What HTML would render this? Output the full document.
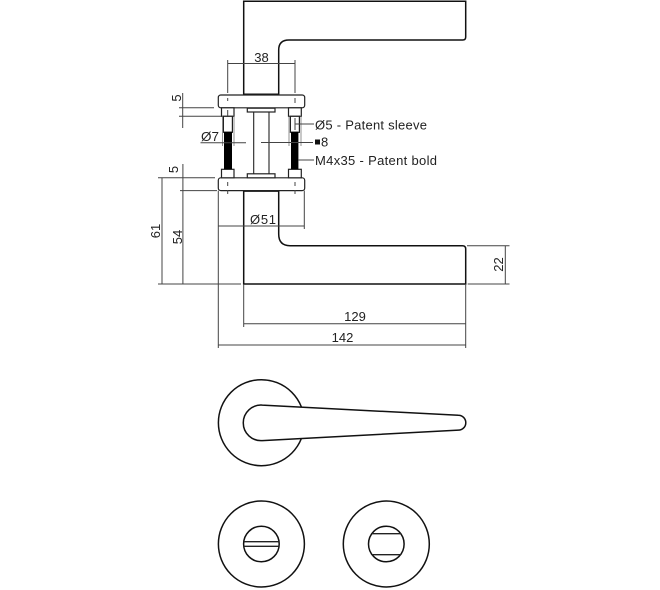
<!DOCTYPE html>
<html>
<head>
<meta charset="utf-8">
<style>
html,body{margin:0;padding:0;background:#fff}
svg{display:block}
text{font-family:"Liberation Sans",sans-serif;font-size:13px;fill:#222}
.o{fill:none;stroke:#111;stroke-width:1.5}
.d{fill:none;stroke:#444;stroke-width:1}
.p{fill:#fff;stroke:#222;stroke-width:1.2}
</style>
</head>
<body>
<svg width="660" height="590" viewBox="0 0 660 590" xmlns="http://www.w3.org/2000/svg">
<!-- top handle -->
<path class="o" d="M243.7 95V1.2H465.7V37Q465.7 40 462.7 40H289Q278.7 40 278.7 50V95"/>
<path d="M243.7 94.3H278.7" stroke="#111" stroke-width="1.6" fill="none"/>
<!-- lower handle -->
<path class="o" d="M243.7 190.7V284H465.7V249Q465.7 245.7 462.4 245.7H290Q278.7 245.7 278.7 234V190.7"/>
<path d="M243.7 191H278.7" stroke="#111" stroke-width="1.8" fill="none"/>
<!-- plates -->
<rect class="p" x="218.3" y="95" width="86.4" height="12.8" rx="2.5"/>
<rect class="p" x="218.3" y="177.8" width="86.4" height="12.8" rx="2.5"/>
<!-- collars -->
<rect class="p" x="221.5" y="107.8" width="12.5" height="8.5"/>
<rect class="p" x="288.5" y="107.8" width="12.8" height="8.5"/>
<rect class="p" x="221.5" y="169.3" width="12.5" height="8.5"/>
<rect class="p" x="288.5" y="169.3" width="12.8" height="8.5"/>
<!-- sleeves -->
<rect class="p" x="223.4" y="116.3" width="9" height="16"/>
<rect class="p" x="290.4" y="116.3" width="9" height="16"/>
<path d="M222.5 116.3V146M234 116.3V146M289 116.3V146M301 116.3V146" fill="none" stroke="#777" stroke-width="0.8"/>
<!-- bolts -->
<rect x="224" y="131.7" width="8" height="37.6" fill="#000"/>
<rect x="291" y="131.7" width="7.4" height="37.6" fill="#000"/>
<!-- centre spindle -->
<rect class="p" x="247.3" y="108.2" width="27.7" height="3.8"/>
<rect class="p" x="247.3" y="173.8" width="27.7" height="4"/>
<path d="M253.7 112V173.8M269 112V173.8" fill="none" stroke="#222" stroke-width="1.1"/>
<!-- 38 dim -->
<path class="d" d="M227.7 60V93M295 60V93M227.7 63.5H295"/>
<path class="d" d="M227.7 98V101M295 98V103M227.7 110V116M295 118V130M227.7 182V186M295 182V186M227.7 190V194M295 190V194"/>
<!-- 5 upper -->
<path class="d" d="M182.7 93V128M179 107.7H214M179 116.2H221"/>
<!-- 5 lower / 54 / 61 -->
<path class="d" d="M182.9 164V284M162 177.8V284M158 177.8H215M180 190.6H217M158 284H241"/>
<!-- O7 -->
<path class="d" d="M200.5 142.7H246"/>
<!-- 8 leader etc -->
<path class="d" d="M261 142.5H313M295 124H314M298 160H314"/>
<!-- O51 -->
<path class="d" d="M218.3 226H304.3M304.3 190.6V229"/>
<!-- bottom extensions -->
<path class="d" d="M218.3 190.6V348M243.7 284V327M465.7 284V348M243.7 323.7H465.7M218.3 345H465.7"/>
<!-- 22 -->
<path class="d" d="M467 245.7H509.5M467.7 284H509.5M505.3 245.7V284"/>
<!-- labels -->
<text x="261.5" y="62" text-anchor="middle">38</text>
<text transform="translate(181 98) rotate(-90)" text-anchor="middle">5</text>
<text transform="translate(178 169.5) rotate(-90)" text-anchor="middle">5</text>
<text transform="translate(160 231) rotate(-90)" text-anchor="middle">61</text>
<text transform="translate(182 237) rotate(-90)" text-anchor="middle">54</text>
<text transform="translate(503 264.5) rotate(-90)" text-anchor="middle">22</text>
<text x="201" y="141" textLength="18" lengthAdjust="spacingAndGlyphs">Ø7</text>
<text x="250" y="224" textLength="26" lengthAdjust="spacing">Ø51</text>
<text x="315" y="129.5" textLength="112" lengthAdjust="spacing">Ø5 - Patent sleeve</text>
<rect x="315" y="139.5" width="5" height="5" fill="#111"/>
<text x="321" y="146.5">8</text>
<text x="315" y="165" textLength="122" lengthAdjust="spacing">M4x35 - Patent bold</text>
<text x="355" y="321" text-anchor="middle">129</text>
<text x="342.5" y="342" text-anchor="middle">142</text>
<!-- handle top view -->
<circle class="o" cx="261.4" cy="422.7" r="43"/>
<path d="M262.4 405.1L458.4 415.3A7.4 7.4 0 0 1 458.4 430.1L262.4 440.6A17.8 17.8 0 1 1 262.4 405.1Z" fill="#fff" stroke="#111" stroke-width="1.5"/>
<!-- rosettes -->
<circle class="o" cx="261.4" cy="544" r="43"/>
<circle class="o" cx="261.4" cy="544" r="17.8"/>
<path d="M244 541.7H279M244 546.3H279" stroke="#222" stroke-width="1.4" fill="none"/>
<circle class="o" cx="386.3" cy="544" r="43"/>
<circle class="o" cx="386.3" cy="544" r="17.8"/>
<path d="M372 533.7H401M372 554.7H401" stroke="#222" stroke-width="1.4" fill="none"/>
</svg>
</body>
</html>
